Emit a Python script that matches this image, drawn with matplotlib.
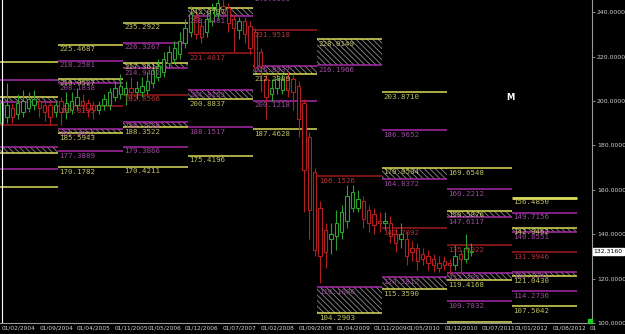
import matplotlib
matplotlib.use('Agg')
import matplotlib.pyplot as plt
import numpy as np

nan = np.nan

# Monthly candles, index 0 = Feb 2004
opens = [190, 193, 197, 194, 195, 197, 198, 200, 198, 198, 195,
         200, 195, 196, 198, 200, 199, 198, 196, 198, 198, 202, 203,
         203, 206, 204, 204, 205, 208, 211, 213, 217, 219, 221, 226,
         231, 238, 234, 231, 236, 239, 243, 242, 237, 232, 236, 234,
         231, 222, 210, 203, 206, 205, 211, 210, 207, 199, 184, 168,
         152, 142, 138, 139, 141, 146, 152, 152, 155, 151, 149, 146,
         145, 145, 140, 138, 138, 134, 134, 131, 130, 129, 127, 128,
         127, 126, 131, 129, 132]
highs = [205, 208, 199, 203, 205, 204, 205, 202, 200, 200, 200,
         202, 204, 204, 206, 203, 201, 200, 200, 203, 206, 209, 212,
         209, 211, 209, 211, 213, 216, 219, 222, 225, 227, 231, 237,
         243, 240, 236, 241, 244, 247, 246, 244, 239, 238, 238, 236,
         233, 224, 212, 210, 213, 212, 213, 212, 209, 201, 186, 170,
         155, 145, 145, 151, 153, 162, 162, 160, 157, 153, 152, 150,
         150, 148, 143, 145, 141, 137, 136, 134, 133, 131, 130, 130,
         129, 135, 133, 140, 136]
lows = [188, 190, 190, 192, 193, 195, 196, 193, 191, 189, 193,
        189, 192, 194, 196, 195, 193, 192, 194, 196, 196, 200, 201,
        198, 201, 201, 202, 203, 206, 209, 211, 215, 217, 219, 224,
        229, 228, 226, 229, 234, 237, 238, 231, 222, 228, 226, 221,
        213, 204, 192, 200, 203, 203, 202, 196, 184, 150, 138, 130,
        118, 125, 131, 133, 138, 143, 150, 150, 143, 141, 140, 141,
        142, 136, 132, 134, 126, 128, 124, 126, 124, 123, 123, 124,
        122, 124, 122, 127, 130]
closes = [199, 198, 193, 199, 200, 201, 201, 197, 195, 193, 198,
          195, 199, 200, 202, 198, 196, 196, 198, 201, 204, 206, 207,
          206, 204, 206, 207, 209, 214, 216, 219, 222, 224, 227, 233,
          239, 230, 229, 237, 241, 244, 240, 235, 233, 236, 230, 224,
          215, 216, 202, 206, 210, 210, 205, 204, 192, 169, 151, 133,
          130, 132, 140, 145, 150, 157, 159, 156, 147, 145, 144, 145,
          145.8, 139, 136, 140, 130, 132, 128, 129, 127, 126, 125, 126,
          126, 130, 129, 134, 132.316]

# Yearly pivot levels
years = [2004, 2005, 2006, 2007, 2008, 2009, 2010, 2011, 2012]
r3 = [217.4, 225.4687, 235.2922, nan, nan, nan, 203.8710, 169.6548, 156.4850]
r2 = [209.6, 218.2581, 226.3267, nan, nan, nan, 186.9652, 160.2212, 149.7156]
r1_hi = [202.0, 210.0527, 217.3611, 242.0797, 251.6727, 228.0149, 170.0594, 150.5876, 142.9462]
r1_lo = [199.6, 208.1838, 214.9412, 238.1481, 248.0099, 216.1966, 164.8372, 147.6117, 140.8551]
pivot = [189.4, 197.8235, 202.8566, 221.4817, 231.9518, 166.1526, 142.7092, 135.0022, 131.9946]
s1_hi = [179.2, 187.4632, 190.7720, 204.8153, 215.8937, 116.1086, 120.5812, 122.3927, 123.1341]
s1_lo = [176.8, 185.5943, 188.3522, 200.8837, 212.2309, 104.2903, 115.3590, 119.4168, 121.0430]
s2 = [169.2, 177.3889, 179.3866, 188.1517, 200.1218, nan, nan, 109.7832, 114.2736]
s3 = [161.4, 170.1782, 170.4211, 175.4196, 187.4628, nan, nan, 100.3496, 107.5042]

tick_months = [0, 7, 14, 21, 27, 34, 41, 48, 55, 62, 69, 75, 82, 89, 95, 102, 109]
tick_labels = ['01/02/2004', '01/09/2004', '01/04/2005', '01/11/2005', '01/05/2006',
               '01/12/2006', '01/07/2007', '01/02/2008', '01/09/2008', '01/04/2009',
               '01/11/2009', '01/05/2010', '01/12/2010', '01/07/2011', '01/01/2012',
               '01/08/2012', '01']
last_price = 132.316

YEL, YEL_T = '#dcdc5a', '#bebe64'
MAG, MAG_T = '#a82ca8', '#9c4a9c'
RED, RED_T = '#a01c1c', '#b03434'
GRN_C, RED_C = '#2fa02f', '#b41e1e'

fig = plt.figure(figsize=(6.25, 3.34), dpi=100, facecolor='black')
ax = fig.add_axes([0, 11 / 334, 592 / 625, 323 / 334])
ax.set_facecolor('black')
plt.rcParams['hatch.linewidth'] = 0.6

levels = [(r3, YEL, YEL_T), (r2, MAG, MAG_T), (r1_hi, YEL, YEL_T), (r1_lo, MAG, MAG_T),
          (pivot, RED, RED_T), (s1_hi, MAG, MAG_T), (s1_lo, YEL, YEL_T),
          (s2, MAG, MAG_T), (s3, YEL, YEL_T)]

for k, yr in enumerate(years):
    x0 = (yr - 2005) * 12 + 10.5
    x1 = x0 + 12
    for lo, hi in [(r1_lo[k], r1_hi[k]), (s1_lo[k], s1_hi[k])]:
        ax.fill_between([x0, x1], lo, hi, facecolor='none', edgecolor='#8a8a8a',
                        hatch='\\\\\\\\\\\\', linewidth=0, zorder=1)
    for vals, c, tc in levels:
        v = vals[k]
        if np.isnan(v):
            continue
        lw = 2.0 if (yr == 2012 and vals is r3) else 1.1
        ax.plot([x0, x1], [v, v], color=c, lw=lw, zorder=2, solid_capstyle='butt')
        if yr > 2004:
            ax.annotate('%.4f' % v, (x0, v), xytext=(1, -1.2), textcoords='offset points',
                        ha='left', va='top', color=tc, fontsize=5.4,
                        family='DejaVu Sans Mono', zorder=4, annotation_clip=False,
                        clip_on=True)

# candles
for i in range(len(opens)):
    o, h, l, c = opens[i], highs[i], lows[i], closes[i]
    col = GRN_C if c >= o else RED_C
    ax.vlines(i, l, h, color=col, lw=0.8, zorder=3)
    ax.bar(i, abs(c - o), bottom=min(o, c), width=0.6, facecolor='black',
           edgecolor=col, linewidth=0.8, zorder=3.5)

ax.axvline(0, color='white', lw=0.8, zorder=5)
ax.text(94.2, 201.4, 'M', color='white', fontsize=6, fontweight='bold',
        ha='center', va='center')

ax.set_xlim(-0.28, 109.35)
ax.set_ylim(100.36, 245.53)

ax.yaxis.tick_right()
ax.set_yticks(np.arange(100, 241, 20))
ax.set_yticklabels(['%.4f' % v for v in np.arange(100, 241, 20)])
ax.set_xticks(tick_months)
ax.set_xticklabels(tick_labels, ha='left')
for lab in ax.get_xticklabels() + ax.get_yticklabels():
    lab.set_family(['Liberation Sans Narrow', 'DejaVu Sans'])
ax.tick_params(axis='y', colors='#a0a0a0', labelcolor='#d0d0d0', labelsize=4.4,
               length=2, width=0.6, pad=1.5)
ax.tick_params(axis='x', colors='#a0a0a0', labelcolor='#d0d0d0', labelsize=4.2,
               length=0, pad=2)
for s in ['left', 'top']:
    ax.spines[s].set_visible(False)
for s in ['right', 'bottom']:
    ax.spines[s].set_color('#9a9a9a')
    ax.spines[s].set_linewidth(0.8)

ax.text(1.003, last_price, '%.4f' % last_price, transform=ax.get_yaxis_transform(),
        ha='left', va='center', fontsize=4.4, color='black',
        family=['Liberation Sans Narrow', 'DejaVu Sans'],
        bbox=dict(facecolor='white', edgecolor='white', pad=0.8))

ax.plot([109.0], [100.9], marker='s', color='#20d020', markersize=3, clip_on=False, zorder=6)

fig.savefig('out.png', dpi=100, facecolor='black')
